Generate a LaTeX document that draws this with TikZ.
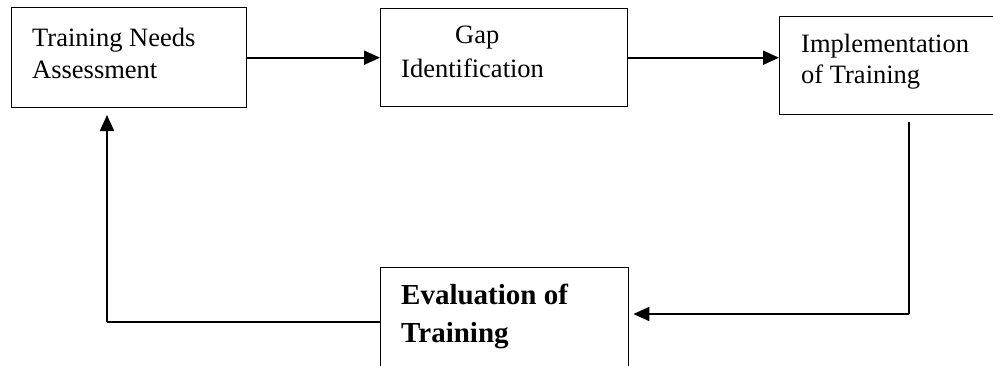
\documentclass[tikz,border=0pt]{standalone}
\usepackage{fontspec}
\setmainfont{Liberation Serif}
\usetikzlibrary{arrows.meta}
\tikzset{
  stage/.style = {draw, line width = 1.4pt, inner sep = 0pt, anchor = north west},
  txt/.style = {anchor = base west, inner sep = 0pt, font = \fontsize{26.5}{32}\selectfont},
  boldtxt/.style = {txt, font = \fontsize{29}{36}\selectfont\bfseries},
  flow/.style = {line width = 2pt, -{Triangle[length = 16pt, width = 14pt]}},
  feed/.style = {line width = 1.5pt}
}
\begin{document}
\begin{tikzpicture}[x = 1pt, y = -1pt]
\useasboundingbox (0, 0) rectangle (993, 365);
\node[stage, minimum width = 235pt, minimum height = 100pt] (tna) at (11, 7) {};
\node[stage, minimum width = 247pt, minimum height = 98pt] (gap) at (380, 8) {};
\node[stage, minimum width = 240pt, minimum height = 98pt] (impl) at (779, 16) {};
\node[stage, minimum width = 248pt, minimum height = 140pt] (eval) at (380, 267) {};
\node[txt] (tna1) at (32, 46) {Training Needs};
\node[txt] (tna2) at (32, 78) {Assessment};
\node[txt] (gap1) at (455, 43) {Gap};
\node[txt] (gap2) at (401, 77) {Identification};
\node[txt] (impl1) at (801, 52) {Implementation};
\node[txt] (impl2) at (801, 83) {of Training};
\node[boldtxt] (eval1) at (401, 304) {Evaluation of};
\node[boldtxt] (eval2) at (401, 342) {Training};
\coordinate (rtop) at (909, 122);
\coordinate (rbot) at (909, 314);
\coordinate (lbot) at (107, 322);
\coordinate (ltop) at (107, 115);
\draw[flow] (tna.east) -- (gap.west);
\draw[flow] (gap.east) -- (gap.east -| impl.west);
\draw[feed] (rtop) -- (rbot);
\draw[flow, shorten > = 4pt] (rbot) -- (rbot -| eval.east);
\draw[feed] (lbot -| eval.west) -- (lbot);
\draw[flow] (lbot) -- (ltop);
\end{tikzpicture}
\end{document}
